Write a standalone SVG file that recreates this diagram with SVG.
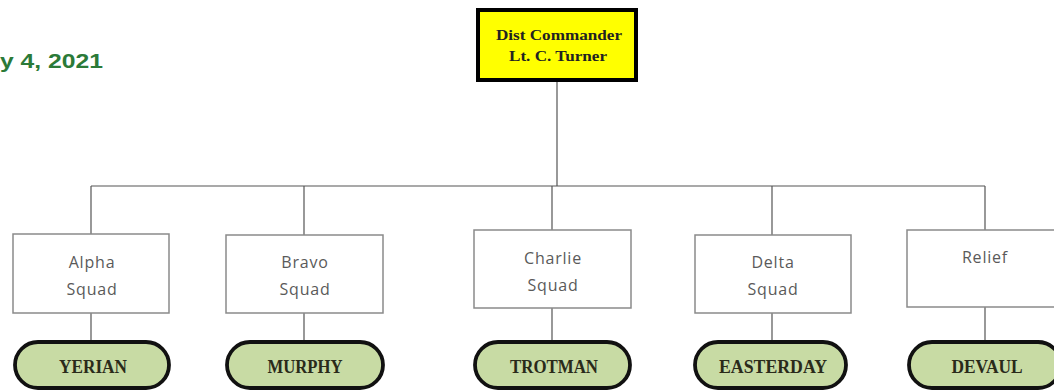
<svg xmlns="http://www.w3.org/2000/svg" width="1054" height="392" viewBox="0 0 1054 392">
<style>
.ln{stroke:#555;stroke-width:1.2;fill:none}
.box{fill:#fff;stroke:#8a8a8a;stroke-width:1.5}
.bt{font-family:"Open Sans","Liberation Sans",sans-serif;font-size:16px;fill:#5a5a5a;text-anchor:middle;letter-spacing:0.8px}
.pill{fill:#c8dba4;stroke:#111;stroke-width:3.8}
.pt{font-family:"Liberation Serif",serif;font-weight:bold;font-size:18px;fill:#2a2a1a;text-anchor:middle}
.ct{font-family:"Liberation Serif",serif;font-weight:bold;font-size:15px;fill:#222;text-anchor:middle}
</style>
<rect width="1054" height="392" fill="#fff"/>
<text x="0" y="68" font-family="Liberation Sans,sans-serif" font-weight="bold" font-size="21" fill="#2b7a38" textLength="103" lengthAdjust="spacingAndGlyphs">y 4, 2021</text>
<g id="connectors">
<path class="ln" d="M557,82 V186 M91,186 H985 M91,186 V234 M304,186 V235 M552,186 V230 M772,186 V235 M985,186 V230"/>
<path class="ln" d="M91,313 V341 M304,313 V341 M552,308 V341 M772,313 V341 M985,307 V342" stroke="#888"/>
</g>
<g id="commander">
<rect x="478" y="10" width="158" height="70" fill="#ffff00" stroke="#000" stroke-width="4"/>
<text class="ct" x="559" y="40" textLength="126" lengthAdjust="spacingAndGlyphs">Dist Commander</text>
<text class="ct" x="558" y="61" textLength="98" lengthAdjust="spacingAndGlyphs">Lt. C. Turner</text>
</g>
<g id="alpha">
<rect class="box" x="13" y="234" width="156" height="79"/>
<text class="bt" x="92" y="268">Alpha</text>
<text class="bt" x="92" y="295">Squad</text>
</g>
<g id="bravo">
<rect class="box" x="226" y="235" width="157" height="78"/>
<text class="bt" x="305" y="268">Bravo</text>
<text class="bt" x="305" y="295">Squad</text>
</g>
<g id="charlie">
<rect class="box" x="474" y="230" width="157" height="78"/>
<text class="bt" x="553" y="264">Charlie</text>
<text class="bt" x="553" y="291">Squad</text>
</g>
<g id="delta">
<rect class="box" x="695" y="235" width="156" height="78"/>
<text class="bt" x="773" y="268">Delta</text>
<text class="bt" x="773" y="295">Squad</text>
</g>
<g id="relief">
<rect class="box" x="907" y="230" width="156" height="77"/>
<text class="bt" x="985" y="263">Relief</text>
</g>
<g id="yerian">
<rect class="pill" x="15" y="342" width="154" height="46" rx="23"/>
<text class="pt" x="93" y="373" textLength="68" lengthAdjust="spacingAndGlyphs">YERIAN</text>
</g>
<g id="murphy">
<rect class="pill" x="227" y="342" width="156" height="46" rx="23"/>
<text class="pt" x="305" y="373" textLength="75" lengthAdjust="spacingAndGlyphs">MURPHY</text>
</g>
<g id="trotman">
<rect class="pill" x="475" y="342" width="155" height="46" rx="23"/>
<text class="pt" x="554" y="373" textLength="88" lengthAdjust="spacingAndGlyphs">TROTMAN</text>
</g>
<g id="easterday">
<rect class="pill" x="695" y="342" width="151" height="46" rx="23"/>
<text class="pt" x="773" y="373" textLength="108" lengthAdjust="spacingAndGlyphs">EASTERDAY</text>
</g>
<g id="devaul">
<rect class="pill" x="909" y="342" width="152" height="46" rx="23"/>
<text class="pt" x="987" y="373" textLength="71" lengthAdjust="spacingAndGlyphs">DEVAUL</text>
</g>
</svg>
